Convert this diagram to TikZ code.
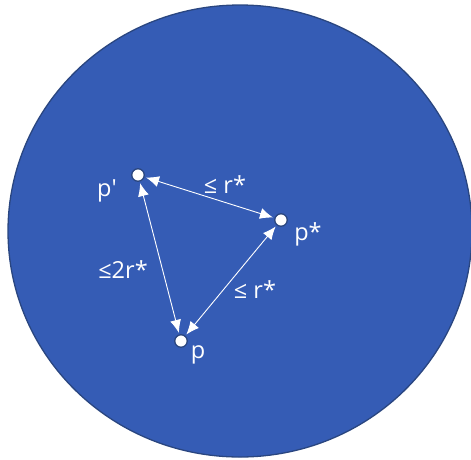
\documentclass[tikz,border=0pt]{standalone}
\usepackage{fontspec}
\setmainfont{Open Sans}
\usetikzlibrary{arrows.meta}
\usetikzlibrary{positioning}
\definecolor{discblue}{HTML}{355CB5}
\definecolor{discedge}{HTML}{2A4680}
\tikzstyle{pnt}=[draw=discedge,circle,fill=white,line width=1.3pt,inner sep=0pt,minimum size=12.5pt]
\tikzstyle{lbl}=[text=white,font=\fontsize{23.5}{26}\selectfont,inner sep=0pt]
\tikzstyle{dist}=[white,line width=0.9pt,shorten <=1.5pt,shorten >=1.5pt,{Latex[length=13pt,width=11pt]}-{Latex[length=13pt,width=11pt]}]

\begin{document}
\begin{tikzpicture}[x=1pt,y=-1pt]
	\useasboundingbox (0,0) rectangle (471,459);
	\fill[discblue,draw=discedge,line width=1.3pt] (240,231) ellipse [x radius=232, y radius=226];
	
	\node[pnt] (pp) at (138,175) {};
	\node[pnt] (ps) at (281,220) {};
	\node[pnt] (p) at (181,341) {};
	
	\draw[dist] (pp) -- (ps);
	\draw[dist] (pp) -- (p);
	\draw[dist] (ps) -- (p);
	
	\node[lbl] (lpp) at (107,191) {p′};
	\node[lbl] (lps) at (308,234) {p*};
	\node[lbl] (lp) at (198,355) {p};
	\node[lbl] (dtop) at (225,185) {≤ r*};
	\node[lbl] (dleft) at (123,270) {≤2r*};
	\node[lbl] (dright) at (255,290) {≤ r*};
\end{tikzpicture}
\end{document}
